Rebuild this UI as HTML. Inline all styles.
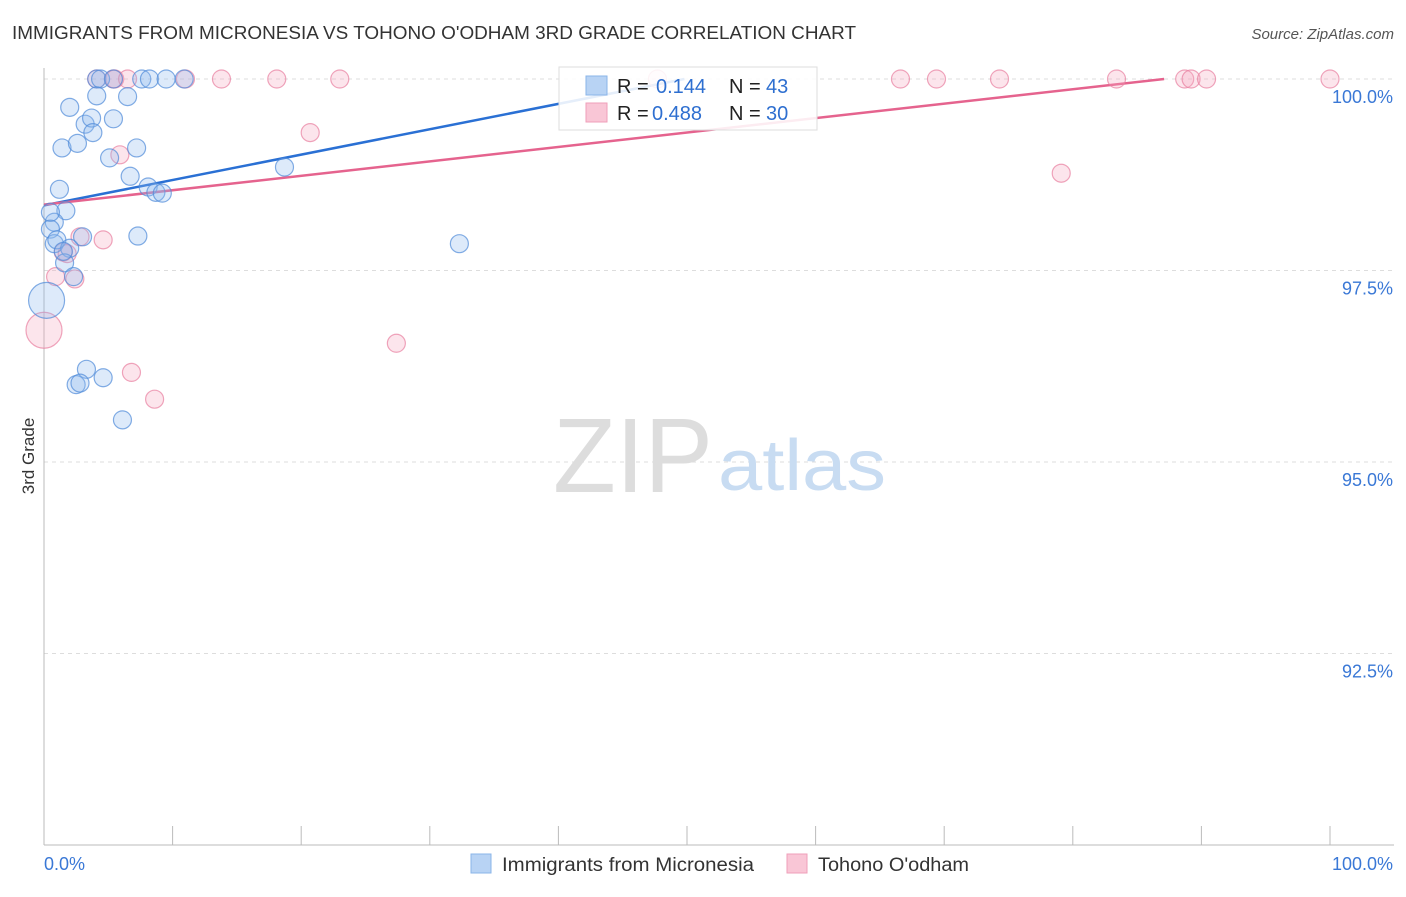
<!DOCTYPE html>
<html><head><meta charset="utf-8"><style>
body{margin:0;background:#fff;font-family:"Liberation Sans",sans-serif;}
svg text{font-family:"Liberation Sans",sans-serif;}
</style></head><body>
<svg width="1406" height="892" xmlns="http://www.w3.org/2000/svg">
<text x="12" y="39" font-size="18" fill="#333" textLength="844" lengthAdjust="spacingAndGlyphs">IMMIGRANTS FROM MICRONESIA VS TOHONO O'ODHAM 3RD GRADE CORRELATION CHART</text>
<text x="1394" y="39" font-size="15" fill="#555" text-anchor="end" font-style="italic">Source: ZipAtlas.com</text>
<g id="grid"></g>
<text x="553" y="492" font-size="106" fill="#ddd" font-family="Liberation Serif" textLength="160" lengthAdjust="spacingAndGlyphs">ZIP</text>
<text x="718" y="490" font-size="72" fill="#c8dcf2" textLength="168" lengthAdjust="spacingAndGlyphs">atlas</text>
<g id="axes"></g>
<text x="34" y="456" font-size="17" fill="#333" transform="rotate(-90 34 456)" text-anchor="middle">3rd Grade</text>
<g id="lines"></g>
<g id="pts"></g>
<g>
<rect x="559" y="67" width="258" height="63" fill="#fff" fill-opacity="0.88" stroke="#ddd"/>
<rect x="586" y="76" width="21" height="19" fill="#b8d3f4" stroke="#8ab4e8"/>
<rect x="586" y="103" width="21" height="19" fill="#f9c6d6" stroke="#ef9fb9"/>
<text x="617" y="93" font-size="20" fill="#222">R =</text>
<text x="656" y="93" font-size="20" fill="#2e6fd0">0.144</text>
<text x="729" y="93" font-size="20" fill="#222">N =</text>
<text x="766" y="93" font-size="20" fill="#2e6fd0">43</text>
<text x="617" y="120" font-size="20" fill="#222">R =</text>
<text x="652" y="120" font-size="20" fill="#2e6fd0">0.488</text>
<text x="729" y="120" font-size="20" fill="#222">N =</text>
<text x="766" y="120" font-size="20" fill="#2e6fd0">30</text>
</g>
<g>
<rect x="471" y="854" width="20" height="19" fill="#b8d3f4" stroke="#8ab4e8"/>
<text x="502" y="871" font-size="19" fill="#333" textLength="252" lengthAdjust="spacingAndGlyphs">Immigrants from Micronesia</text>
<rect x="787" y="854" width="20" height="19" fill="#f9c6d6" stroke="#ef9fb9"/>
<text x="818" y="871" font-size="19" fill="#333" textLength="151" lengthAdjust="spacingAndGlyphs">Tohono O'odham</text>
</g>
</svg>
<script>
const blueX=[4.1,4.4,5.4,7.6,8.2,9.5,10.9,2.0,4.1,6.5,3.2,3.7,5.4,3.8,1.4,2.6,7.2,5.1,1.2,6.7,8.1,8.7,9.2,18.7,1.7,0.8,0.5,0.8,1.0,2.0,1.6,2.3,7.3,3.0,32.3,0.2,3.3,4.6,2.5,2.8,6.1,1.5,0.5];
const blueY=[100,100,100,100,100,100,100,99.63,99.78,99.77,99.41,99.49,99.48,99.30,99.10,99.16,99.10,98.97,98.56,98.73,98.59,98.52,98.51,98.85,98.28,98.13,98.04,97.85,97.90,97.79,97.60,97.42,97.95,97.94,97.85,97.11,96.21,96.10,96.01,96.03,95.55,97.75,98.26];
const blueR=[9,9,9,9,9,9,9,9,9,9,9,9,9,9,9,9,9,9,9,9,9,9,9,9,9,9,9,9,9,9,9,9,9,9,9,18,9,9,9,9,9,9,9];
const pinkX=[4.1,5.4,5.5,6.5,11.0,13.8,18.1,23.0,47.7,66.6,69.4,74.3,83.4,88.7,89.2,90.4,100,20.7,5.9,79.1,4.6,2.8,1.5,1.8,2.4,0.9,0,27.4,6.8,8.6];
const pinkY=[100,100,100,100,100,100,100,100,100,100,100,100,100,100,100,100,100,99.30,99.01,98.77,97.90,97.94,97.74,97.72,97.39,97.42,96.72,96.55,96.17,95.82];
const pinkR=[9,9,9,9,9,9,9,9,9,9,9,9,9,9,9,9,9,9,9,9,9,9,9,9,9,9,18,9,9,9];
const blueLine=[[0,98.35],[49.8,100]];
const pinkLine=[[0,98.36],[87.1,100]];
const yTicks=[100,97.5,95,92.5];
const yTickLabels=["100.0%","97.5%","95.0%","92.5%"];
const xTickVals=[0,10,20,30,40,50,60,70,80,90,100];
const NS="http://www.w3.org/2000/svg";
const sx=v=>44+v*12.86, sy=v=>79+(100-v)*76.6;
function mk(tag,attrs,parent){const e=document.createElementNS(NS,tag);for(const k in attrs)e.setAttribute(k,attrs[k]);document.getElementById(parent).appendChild(e);return e;}
yTicks.forEach((t,i)=>{
 const l=mk('line',{x1:44,x2:1394,y1:sy(t),y2:sy(t),stroke:'#ddd','stroke-dasharray':'4,4'},'grid');
 
 
 const tx=mk('text',{x:1393,y:sy(t)+24,'font-size':18,fill:'#3a78d6','text-anchor':'end'},'grid');
 tx.textContent=yTickLabels[i];
 
 
});
const ax=mk('line',{x1:44,x2:44,y1:68,y2:845,stroke:'#bbb'},'axes');


const bx=mk('line',{x1:44,x2:1394,y1:845,y2:845,stroke:'#bbb'},'axes');


xTickVals.forEach(v=>{const t=mk('line',{x1:sx(v),x2:sx(v),y1:826,y2:845,stroke:'#bbb'},'axes');
 
 });
const x0=mk('text',{x:44,y:870,'font-size':18,fill:'#3a78d6'},'axes');x0.textContent='0.0%';


const x1=mk('text',{x:1393,y:870,'font-size':18,fill:'#3a78d6','text-anchor':'end'},'axes');x1.textContent='100.0%';


function pts(X,Y,R,fill,stroke,name){X.forEach((x,i)=>{const c=mk('circle',{cx:sx(x),cy:sy(Y[i]),r:R[i],fill:fill,'fill-opacity':0.3,stroke:stroke,'stroke-opacity':0.7,'stroke-width':1.2},'pts');
 
 });}
pts(pinkX,pinkY,pinkR,'#f4a9c0','#e87fa0','point-tohono');
pts(blueX,blueY,blueR,'#8dbbee','#4f8ad8','point-micronesia');
const bl=mk('line',{x1:sx(blueLine[0][0]),y1:sy(blueLine[0][1]),x2:sx(blueLine[1][0]),y2:sy(blueLine[1][1]),stroke:'#2a70d4','stroke-width':2.5},'lines');


const pl=mk('line',{x1:sx(pinkLine[0][0]),y1:sy(pinkLine[0][1]),x2:sx(pinkLine[1][0]),y2:sy(pinkLine[1][1]),stroke:'#e5638e','stroke-width':2.5},'lines');


</script>
</body></html>
